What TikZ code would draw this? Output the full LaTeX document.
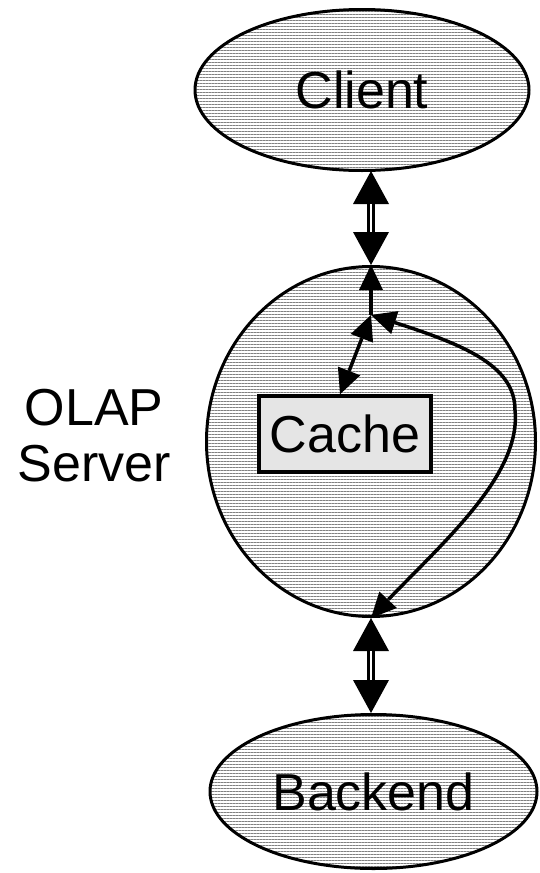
\documentclass[tikz,border=0pt]{standalone}
\usepackage{fontspec}
\setmainfont{Liberation Sans}
\usetikzlibrary{shapes.geometric,arrows.meta,patterns.meta,calc,bending}
\begin{document}
\begin{tikzpicture}[x=1pt,y=-1pt,
  bigtext/.style={font=\fontsize{52}{56}\selectfont},
  hatch/.style={ellipse, draw, line width=3pt, inner sep=0pt, bigtext,
    preaction={fill=white},
    pattern={Lines[distance=3pt,angle=0,line width=1pt]}, pattern color=gray},
  cachebox/.style={rectangle, draw, line width=3.5pt, fill=black!10, inner sep=0pt, bigtext},
  bigtip/.tip={Triangle[length=33pt,width=36pt,line width=0pt]},
  smalltip/.tip={Triangle[length=25pt,width=24pt,line width=0pt]},
  dbl/.style={line width=8pt, bigtip-bigtip},
  dblgap/.style={white, line width=2pt, shorten <=33pt, shorten >=33pt},
  inner/.style={line width=3.5pt}
]
\useasboundingbox (0,0) rectangle (540,873);

\node[hatch, minimum width=334pt, minimum height=161pt] (client) at (362,90) {Client};
\node[hatch, minimum width=329pt, minimum height=350pt] (server) at (371,441.5) {};
\node[hatch, minimum width=327pt, minimum height=154pt] (backend) at (373.5,791.5) {Backend};
\node[cachebox, minimum width=172pt, minimum height=76pt] (cache) at (345,434) {Cache};
\node[bigtext, align=center] (olap) at (94,436) {OLAP\\Server};

\coordinate (J) at (371,315);

% double arrows
\draw[dbl] (server.north |- client.south) -- (server.north);
\draw[dblgap] (server.north |- client.south) -- (server.north);
\draw[dbl] (server.south) -- (server.south |- backend.north);
\draw[dblgap] (server.south) -- (server.south |- backend.north);

% inner arrows
\draw[inner, smalltip-] (server.north) -- (J);
\draw[inner, smalltip-smalltip] (J) -- ([xshift=-5pt]cache.north);
\draw[inner, smalltip-smalltip] (J) .. controls (450,340) and (515,360) .. (515,410)
  .. controls (522,480) and (431,552) .. (server.south);
\end{tikzpicture}
\end{document}
